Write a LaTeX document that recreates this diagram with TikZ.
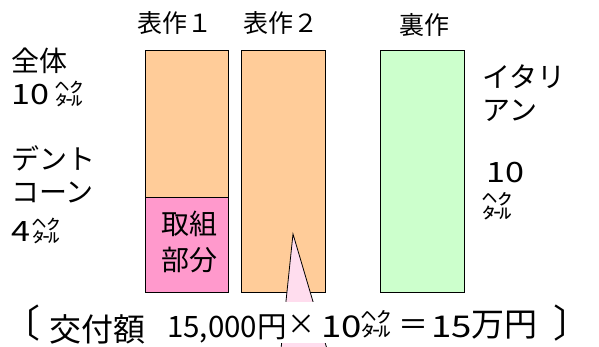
\documentclass[tikz,border=0pt]{standalone}
\usepackage{fontspec}
\usepackage{graphicx}
\setmainfont{Noto Sans CJK JP}
\definecolor{peach}{HTML}{FFCC99}
\definecolor{rosy}{HTML}{FF99CC}
\definecolor{mint}{HTML}{CCFFCC}
\definecolor{lightpink}{HTML}{FFDDEE}
\newcommand{\wdig}[1]{\scalebox{1.22}[1]{#1}}
\begin{document}
\begin{tikzpicture}[x=1pt,y=-1pt,
  bar/.style={draw=black, line width=1.3pt, inner sep=0, anchor=north west},
  lbl/.style={inner sep=0, anchor=base west, font=\fontsize{28}{30}\selectfont},
  head/.style={inner sep=0, anchor=base west, font=\fontsize{25}{27}\selectfont},
  frm/.style={inner sep=0, anchor=base west, font=\fontsize{30}{32}\selectfont}]
\useasboundingbox (0,0) rectangle (599,347);
\fill[white] (0,0) rectangle (599,347);
% bars
\node[bar, fill=peach, minimum width=83pt, minimum height=242pt] (b1) at (145,50) {};
\node[bar, fill=rosy, minimum width=83pt, minimum height=95pt] (p1) at (145,197) {};
\node[bar, fill=peach, minimum width=84pt, minimum height=242pt] (b2) at (241,50) {};
\node[bar, fill=mint, minimum width=84pt, minimum height=242pt] (b3) at (380,50) {};
% headers
\node[head] (h1) at (137,33) {表作１};
\node[head] (h2) at (243,33) {表作２};
\node[head] (h3) at (399,35) {裏作};
% left labels
\node[lbl] (l1) at (11,72) {全体};
\node[lbl] (l2) at (11,105) {\wdig{10}};
\node[lbl] (l2u) at (55,105) {㌶};
\node[lbl] (l3) at (11,170) {デント};
\node[lbl] (l4) at (11,203) {コーン};
\node[lbl] (l5) at (11,242) {\wdig{4}};
\node[lbl] (l5u) at (32,242) {㌶};
% inside pink
\node[lbl] (t1) at (161,235) {取組};
\node[lbl] (t2) at (161,270) {部分};
% right labels
\node[lbl] (r1) at (482,88) {イタリ};
\node[lbl] (r2) at (482,121) {アン};
\node[lbl] (r3) at (486,183) {\wdig{10}};
\node[lbl, font=\fontsize{30}{32}\selectfont] (r4) at (482,218) {㌶};
% callout pointer
\coordinate (tip) at (293,234);
\coordinate (tl) at (281,349);
\coordinate (tr) at (327,349);
\fill[lightpink] (tl) -- (tip) -- (tr) -- cycle;
\draw[line width=0.8pt] (tl) -- (tip) -- (tr);
% white band behind formula
\fill[white] (10,302) rectangle (590,343);
% formula
\node[frm, font=\fontsize{38}{40}\selectfont] (f0) at (2,337) {〔};
\node[frm, font=\fontsize{32}{34}\selectfont] (f1) at (49,341) {交付額};
\node[frm, font=\fontsize{29.5}{31}\selectfont] (f2) at (167,337) {15,000円};
\node[frm, font=\fontsize{28}{30}\selectfont] (f3) at (287,334) {×};
\node[frm] (f4) at (321,337) {\wdig{10}};
\node[frm] (f5) at (361,335) {㌶};
\node[frm] (f6) at (398,335) {＝};
\node[frm] (f7) at (431,337) {\wdig{15}};
\node[frm, font=\fontsize{33}{35}\selectfont] (f8) at (471,336) {万円};
\node[frm, font=\fontsize{38}{40}\selectfont] (f9) at (553,337) {〕};
\end{tikzpicture}
\end{document}
